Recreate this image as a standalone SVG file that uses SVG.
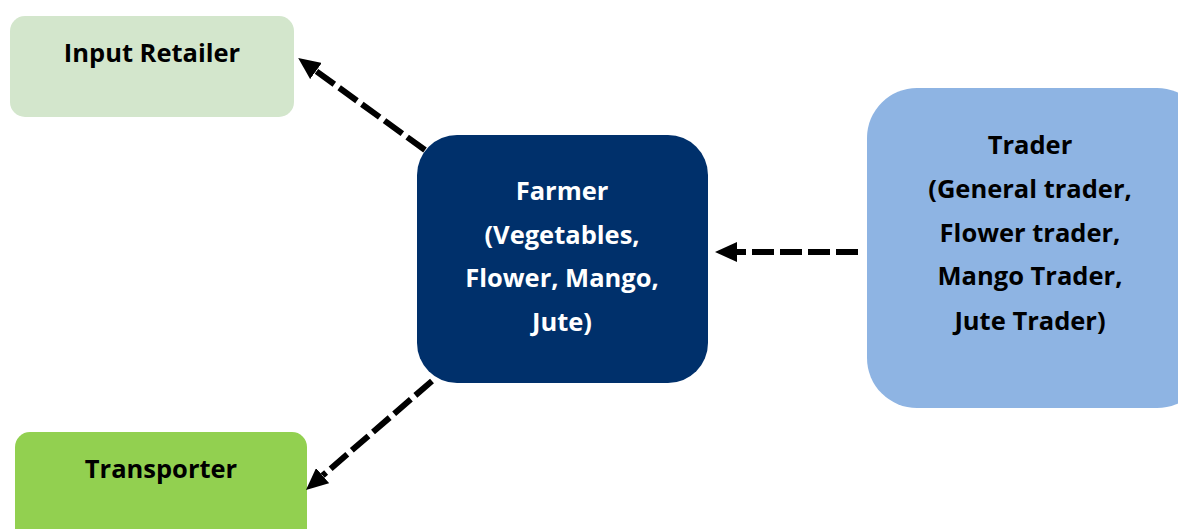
<svg xmlns="http://www.w3.org/2000/svg" width="1178" height="529" viewBox="0 0 1178 529">
  <style>
    .lbl { font-family: "Open Sans", "Noto Sans", "Liberation Sans", sans-serif; font-weight: bold; font-size: 25.5px; text-anchor: middle; fill: #000; }
    .light { fill: #fff; }
    .conn { fill: none; stroke: #000; stroke-width: 6; stroke-dasharray: 22 6; }
  </style>
  <defs>
    <marker id="head" markerUnits="userSpaceOnUse" markerWidth="22" markerHeight="20" refX="0" refY="10" orient="auto" viewBox="0 0 22 20">
      <path d="M0,0 L22,10 L0,20 Z" fill="#000"/>
    </marker>
  </defs>
  <rect width="1178" height="529" fill="#fff"/>

  <g id="input-retailer">
    <rect x="10" y="16" width="284" height="101" rx="15" fill="#D3E6CC"/>
    <text class="lbl" x="152" y="62">Input Retailer</text>
  </g>

  <g id="farmer">
    <rect x="417" y="135" width="291" height="248" rx="40" fill="#00306B"/>
    <text class="lbl light" x="562" y="200">Farmer</text>
    <text class="lbl light" x="562" y="244">(Vegetables,</text>
    <text class="lbl light" x="562" y="287">Flower, Mango,</text>
    <text class="lbl light" x="562" y="331">Jute)</text>
  </g>

  <g id="trader">
    <rect x="867" y="88" width="340" height="320" rx="50" fill="#8EB4E3"/>
    <text class="lbl" x="1030" y="154">Trader</text>
    <text class="lbl" x="1030" y="198">(General trader,</text>
    <text class="lbl" x="1030" y="242">Flower trader,</text>
    <text class="lbl" x="1030" y="285">Mango Trader,</text>
    <text class="lbl" x="1030" y="330">Jute Trader)</text>
  </g>

  <g id="transporter">
    <rect x="15" y="432" width="292" height="120" rx="15" fill="#92D050"/>
    <text class="lbl" x="161" y="478">Transporter</text>
  </g>

  <g id="connectors">
    <path class="conn" d="M425,150 L316,71" marker-end="url(#head)"/>
    <path class="conn" d="M432,381 L322.6,475.6" marker-end="url(#head)"/>
    <path class="conn" d="M858,252 L737,252" marker-end="url(#head)"/>
  </g>
</svg>
